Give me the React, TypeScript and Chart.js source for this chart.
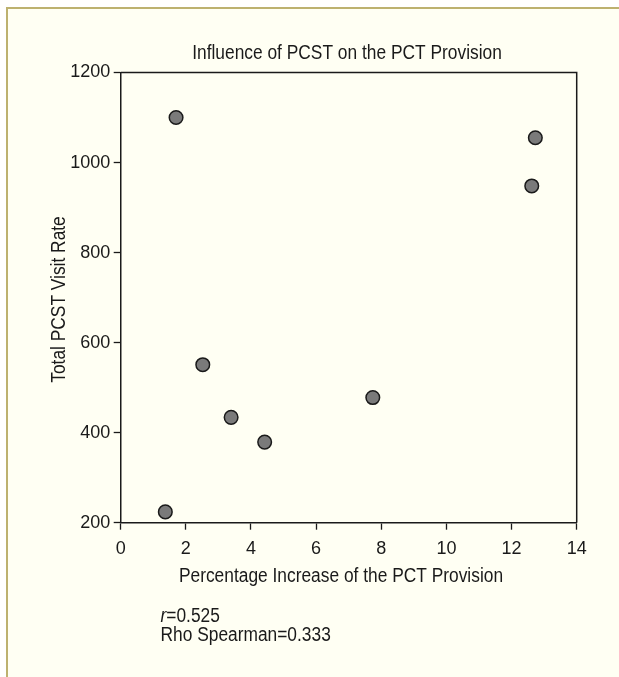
import React, { useEffect, useRef } from "react";
import { Chart, registerables } from "chart.js";

Chart.register(...registerables);

// ---- data ----
const xValues = [1.7, 2.52, 3.39, 4.42, 1.37, 7.74, 12.62, 12.73];
const yValues = [1100, 551, 434, 379, 224, 478, 948, 1055];
const xTicks = [0, 2, 4, 6, 8, 10, 12, 14];
const yTicks = [200, 400, 600, 800, 1000, 1200];
const chartTitle = "Influence of PCST on the PCT Provision";
const xTitle = "Percentage Increase of the PCT Provision";
const yTitle = "Total PCST Visit Rate";
const statRLabel = "r";
const statRValue = "=0.525";
const statRho = "Rho Spearman=0.333";

const FONT = '"Liberation Sans", Arial, sans-serif';
const FS = 19.5;
const SQUEEZE = 0.89;
const TICK_FS = 18;
const INK = "#1a1a1a";

function squeezedText(ctx: any, text: string, x: number, y: number, align: "left" | "center", italic = false) {
  ctx.save();
  ctx.font = `${italic ? "italic " : ""}${FS}px ${FONT}`;
  ctx.textAlign = align;
  ctx.translate(x, y);
  ctx.scale(SQUEEZE, 1);
  ctx.fillText(text, 0, 0);
  const w = ctx.measureText(text).width * SQUEEZE;
  ctx.restore();
  return w;
}

const textPlugin = {
  id: "textPlugin",
  afterDraw(chart: any) {
    const { ctx, chartArea: a } = chart;
    ctx.save();
    // top & right frame lines
    ctx.strokeStyle = INK;
    ctx.lineWidth = 1.5;
    ctx.beginPath();
    ctx.moveTo(a.left, a.top);
    ctx.lineTo(a.right, a.top);
    ctx.lineTo(a.right, a.bottom);
    ctx.stroke();

    ctx.fillStyle = INK;
    ctx.textBaseline = "alphabetic";
    squeezedText(ctx, chartTitle, 347, 59, "center");
    squeezedText(ctx, xTitle, 341, 582, "center");

    ctx.save();
    ctx.translate(65, 299.5);
    ctx.rotate(-Math.PI / 2);
    squeezedText(ctx, yTitle, 0, 0, "center");
    ctx.restore();

    const w = squeezedText(ctx, statRLabel, 160.5, 621.7, "left", true);
    squeezedText(ctx, statRValue, 160.5 + w, 621.7, "left");
    squeezedText(ctx, statRho, 160.5, 641, "left");
    ctx.restore();
  },
};

export default function App() {
  const ref = useRef<HTMLCanvasElement | null>(null);

  useEffect(() => {
    const canvas = ref.current;
    if (!canvas) return;
    const chart = new Chart(canvas, {
      type: "scatter",
      data: {
        datasets: [
          {
            data: xValues.map((x, i) => ({ x, y: yValues[i] })),
            backgroundColor: "#7a7a7a",
            borderColor: INK,
            borderWidth: 1.5,
            pointRadius: 6.8,
            pointHoverRadius: 6.8,
          },
        ],
      },
      options: {
        animation: false,
        responsive: false,
        events: [],
        layout: { padding: { left: 20, top: 72.5, right: 42.3, bottom: 114.3 } },
        plugins: {
          legend: { display: false },
          tooltip: { enabled: false },
          title: { display: false },
        },
        scales: {
          x: {
            type: "linear",
            min: 0,
            max: 14,
            afterBuildTicks: (s: any) => {
              s.ticks = xTicks.map((v) => ({ value: v }));
            },
            afterFit: (s: any) => {
              s.height = 40;
            },
            grid: {
              drawOnChartArea: false,
              drawTicks: true,
              tickLength: 7,
              tickColor: INK,
              tickWidth: 1.3,
            },
            border: { color: INK, width: 1.5 },
            ticks: {
              color: INK,
              font: { family: FONT, size: TICK_FS },
              padding: 9,
              maxRotation: 0,
              callback: (v: any) => String(v),
            },
          },
          y: {
            type: "linear",
            min: 200,
            max: 1200,
            afterBuildTicks: (s: any) => {
              s.ticks = yTicks.map((v) => ({ value: v }));
            },
            afterFit: (s: any) => {
              s.width = 100.7;
            },
            grid: {
              drawOnChartArea: false,
              drawTicks: true,
              tickLength: 7,
              tickColor: INK,
              tickWidth: 1.3,
            },
            border: { color: INK, width: 1.5 },
            ticks: {
              color: INK,
              font: { family: FONT, size: TICK_FS },
              padding: 3.5,
              callback: (v: any) => String(v),
            },
          },
        },
      },
      plugins: [textPlugin],
    });
    return () => chart.destroy();
  }, []);

  return (
    <div style={{ position: "absolute", left: 0, top: 0, width: 619, height: 677, background: "#ffffff", overflow: "hidden" }}>
      <div
        style={{
          position: "absolute",
          left: 6,
          top: 7,
          width: 619 - 6,
          height: 677 - 7,
          boxSizing: "border-box",
          borderTop: "2.5px solid #bdb16f",
          borderLeft: "2.5px solid #bdb16f",
          background: "#fffff3",
        }}
      />
      <canvas ref={ref} width={619} height={677} style={{ position: "absolute", left: 0, top: 0, width: 619, height: 677 }} />
    </div>
  );
}
